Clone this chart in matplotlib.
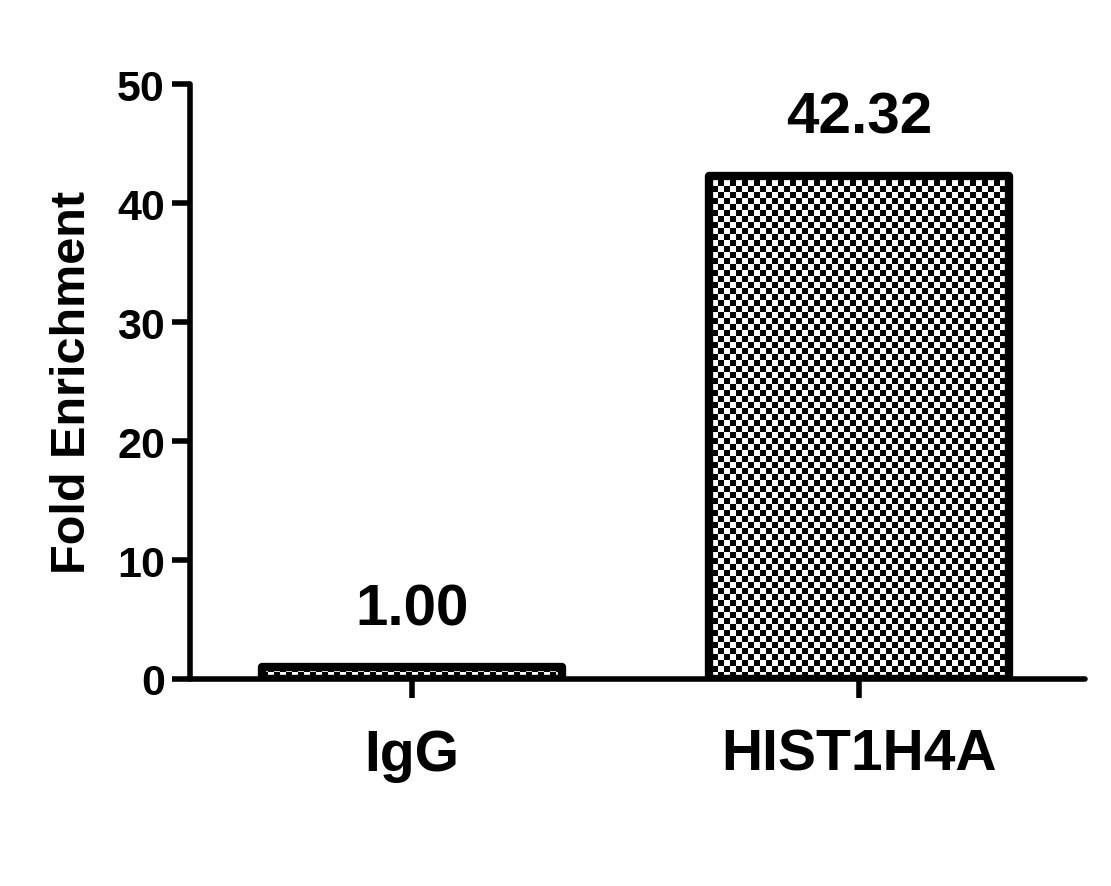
import matplotlib.pyplot as plt
import numpy as np

categories = ["IgG", "HIST1H4A"]
fold_values = [1.00, 42.32]
value_labels = ["1.00", "42.32"]
y_ticks = [0, 10, 20, 30, 40, 50]

plt.rcParams["font.family"] = ["Liberation Sans", "DejaVu Sans"]
plt.rcParams["font.weight"] = "bold"

fig = plt.figure(figsize=(11.11, 8.87), dpi=100)
ax = fig.add_axes([0.171, 0.2334, 0.806, 0.6706])

x = np.arange(len(categories))
bars = ax.bar(x, fold_values, width=0.67, facecolor="none",
              edgecolor="black", linewidth=6, joinstyle="round", zorder=3)

ax.set_xlim(-0.497, 1.506)
ax.set_ylim(0, 50)

# checkerboard fill, clipped to each bar
fig.canvas.draw()
bbox = ax.get_window_extent()
cell = 6
nx = int(bbox.width / cell) + 1
ny = int(bbox.height / cell) + 1
checker = (np.add.outer(np.arange(ny), np.arange(nx)) % 2).astype(float)
ext = [0, nx * cell / bbox.width, 1 - ny * cell / bbox.height, 1]
for bar in bars:
    img = ax.imshow(checker, cmap="gray", interpolation="nearest",
                    extent=ext, transform=ax.transAxes, aspect="auto",
                    zorder=2)
    img.set_clip_path(bar)
ax.set_xlim(-0.497, 1.506)
ax.set_ylim(0, 50)

for xi, val, lab in zip(x, fold_values, value_labels):
    ax.annotate(lab, xy=(xi, val), xytext=(0, 31), textcoords="offset points",
                ha="center", va="baseline", fontsize=42, fontweight="bold")

ax.set_xticks(x)
ax.set_xticklabels(categories, fontsize=41, fontweight="bold")
ax.set_yticks(y_ticks)
ax.set_yticklabels([str(t) for t in y_ticks], fontsize=31, fontweight="bold")
ax.set_ylabel("Fold Enrichment", fontsize=35, fontweight="bold", labelpad=16)

for side in ["top", "right"]:
    ax.spines[side].set_visible(False)
for side in ["left", "bottom"]:
    ax.spines[side].set_linewidth(4)
    ax.spines[side].set_capstyle("round")

ax.tick_params(axis="y", length=13, width=4, pad=5)
ax.tick_params(axis="x", length=14, width=4, pad=21)

fig.savefig("out.png", dpi=100)
